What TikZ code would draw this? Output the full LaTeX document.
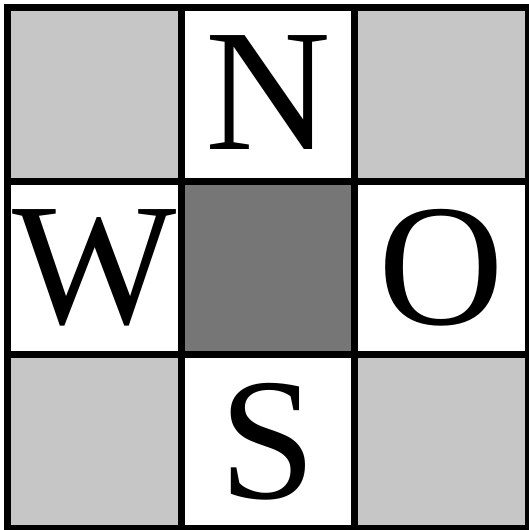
\documentclass[tikz,border=0pt]{standalone}
\usepackage{fontspec}
\setmainfont{Liberation Serif}
\usepackage{tikz}
\definecolor{compasslight}{HTML}{C6C6C6}
\definecolor{compassdark}{HTML}{767676}

\begin{document}
\begin{tikzpicture}[x=1pt,y=-1pt,
  cell/.style={draw=black,line width=7pt,inner sep=0pt,outer sep=0pt,minimum size=173.7pt,font=\fontsize{174}{174}\selectfont},
  corner/.style={cell,fill=compasslight},
  middle/.style={cell,fill=compassdark},
  point/.style={cell,fill=white}
]
\useasboundingbox (0,0) rectangle (529,530);
\node[corner] (nw) at (94.35,94.35) {};
\node[point] (north) at (268.05,94.35) {\raisebox{3pt}{N}};
\node[corner] (ne) at (441.75,94.35) {};
\node[point] (west) at (94.35,268.05) {W};
\node[middle] (centre) at (268.05,268.05) {};
\node[point] (east) at (441.75,268.05) {O};
\node[corner] (sw) at (94.35,441.75) {};
\node[point] (south) at (268.05,441.75) {S};
\node[corner] (se) at (441.75,441.75) {};
\end{tikzpicture}
\end{document}
